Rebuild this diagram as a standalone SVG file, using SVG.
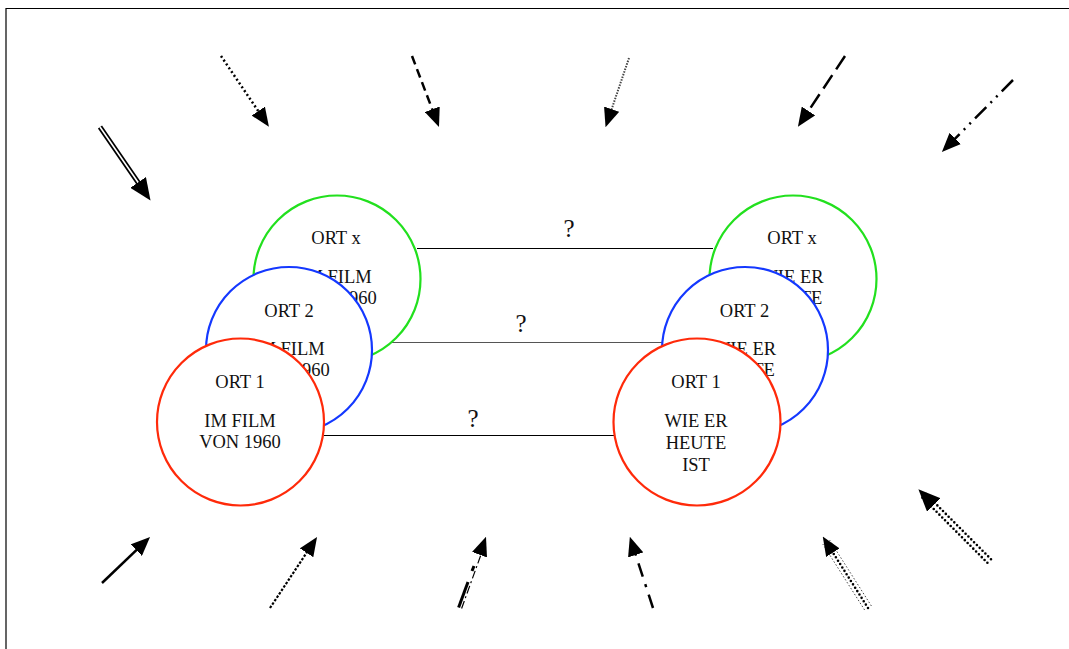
<svg xmlns="http://www.w3.org/2000/svg" width="1069" height="649" viewBox="0 0 1069 649">
<style>
.c{fill:#fff;stroke-width:2.2}
.g{stroke:#22e01e}.b{stroke:#1438ff}.r{stroke:#ff2a0a}
text{font-family:"Liberation Serif","Times New Roman",serif;font-size:18.5px;fill:#111;text-anchor:middle}
.q{font-size:25px}
.a{fill:none;stroke:#000;stroke-width:2.5;marker-end:url(#ah)}
.m{fill:none;stroke:none;marker-end:url(#ah)}
.mb{fill:none;stroke:none;marker-end:url(#ahb)}
.ln{stroke:#000;stroke-width:1;fill:none}
.dot{fill:none;stroke:#000;stroke-width:2.6;stroke-linecap:round;stroke-dasharray:0 4}
</style>
<defs>
<marker id="ah" markerUnits="userSpaceOnUse" viewBox="0 0 19 16" refX="12" refY="8" markerWidth="19" markerHeight="16" orient="auto"><path d="M0,0L19,8L0,16z" fill="#000"/></marker>
<marker id="ahb" markerUnits="userSpaceOnUse" viewBox="0 0 22 19" refX="14" refY="9.5" markerWidth="22" markerHeight="19" orient="auto"><path d="M0,0L22,9.5L0,19z" fill="#000"/></marker>
</defs>
<rect width="1069" height="649" fill="#fff"/>
<path d="M6,649V8.5H1069" fill="none" stroke="#000" stroke-width="1.2"/>

<g id="connectors">
<line class="ln" x1="417" y1="248.5" x2="713" y2="248.5"/>
<line class="ln" x1="371" y1="342.5" x2="663" y2="342.5" style="stroke:#555"/>
<line class="ln" x1="324" y1="435.5" x2="614" y2="435.5"/>
<text class="q" x="569" y="237">?</text>
<text class="q" x="521" y="332">?</text>
<text class="q" x="473" y="427">?</text>

<!-- top arrows -->
<path d="M100,127L145,192.5" stroke="#000" stroke-width="5" fill="none"/>
<path d="M100,127L145,192.5" stroke="#fff" stroke-width="1.6" fill="none"/>
<path class="mb" d="M100,127L146,194"/>
<path class="a" d="M221,56L265,121" stroke-dasharray="2 2.6"/>
<path class="a" d="M412,56L436.5,120.5" stroke-dasharray="9 5"/>
<path class="a" d="M629,58L607.8,120.5" style="stroke:#444;stroke-width:2" stroke-dasharray="1.5 1.3"/>
<path class="a" d="M845,56L801.8,121" stroke-dasharray="16 7"/>
<path class="a" d="M1013,80L946.8,147" stroke-dasharray="16 6 2 6 2 6"/>

<!-- bottom arrows -->
<path class="a" d="M102,583L145,541.8"/>
<path class="a" d="M270,608L313.2,542.8" style="stroke-width:2.2" stroke-dasharray="2.5 1.6"/>
<path d="M461.6,608.5L485,543.5" stroke="#000" stroke-width="1.2" fill="none" stroke-dasharray="8 3 2 3"/>
<path d="M458.6,607.5L468,582" stroke="#000" stroke-width="3" fill="none"/>
<path d="M472,571L474,566" stroke="#000" stroke-width="3" fill="none"/>
<path class="m" d="M460,608L483.6,543.4"/>
<path class="a" d="M653,608L632,543.5" stroke-dasharray="14 8 3 8"/>
<path d="M871.4,606L829.6,540" stroke="#333" stroke-width="0.9" fill="none" stroke-dasharray="1.5 2"/>
<path d="M864.6,610L822.8,544" stroke="#333" stroke-width="0.9" fill="none" stroke-dasharray="1.5 2"/>
<path class="dot" d="M868,608L826.5,542.5"/>
<path class="m" d="M868,608L826.5,542.5"/>
<path class="dot" d="M991,559.2L925,493"/>
<path class="dot" d="M987.4,562.8L921.4,496.6"/>
<path class="mb" d="M989,561L924,495"/>
</g>

<g id="film-x"><circle class="c g" cx="337" cy="279" r="83.5"/><text x="336" y="244">ORT x</text><text x="336" y="283">IM FILM</text><text x="336" y="304">VON 1960</text></g>
<g id="film-2"><circle class="c b" cx="289" cy="350" r="83"/><text x="289" y="317">ORT 2</text><text x="289" y="355">IM FILM</text><text x="289" y="376">VON 1960</text></g>
<g id="film-1"><circle class="c r" cx="240.5" cy="422" r="83.5"/><text x="240" y="388">ORT 1</text><text x="240" y="427">IM FILM</text><text x="240" y="448">VON 1960</text></g>

<g id="heute-x"><circle class="c g" cx="793" cy="279" r="83.5"/><text x="792" y="244">ORT x</text><text x="792" y="283">WIE ER</text><text x="792" y="304">HEUTE</text><text x="792" y="326">IST</text></g>
<g id="heute-2"><circle class="c b" cx="745" cy="350" r="83"/><text x="744.5" y="317">ORT 2</text><text x="744.5" y="355">WIE ER</text><text x="744.5" y="376">HEUTE</text><text x="744.5" y="398">IST</text></g>
<g id="heute-1"><circle class="c r" cx="697" cy="422" r="83.5"/><text x="696" y="388">ORT 1</text><text x="696" y="427">WIE ER</text><text x="696" y="449">HEUTE</text><text x="696" y="471">IST</text></g>
</svg>
